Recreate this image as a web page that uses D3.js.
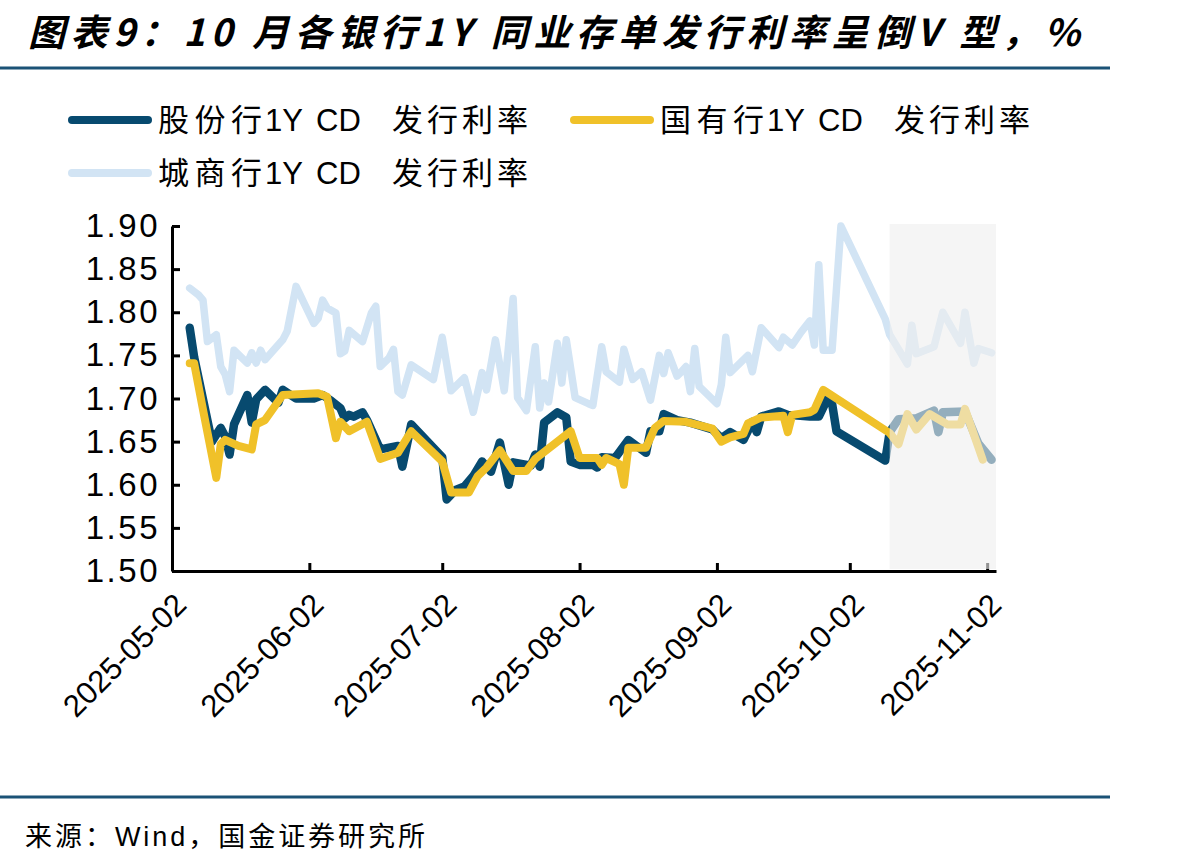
<!DOCTYPE html>
<html><head><meta charset="utf-8">
<script src="https://cdn.jsdelivr.net/npm/d3@7"></script>
<style>body{margin:0;background:#fff}svg{display:block}</style>
</head><body>
<svg id="chart" width="1198" height="866"></svg>
<script>
// ---------- data ----------
const titleText = "图表9：10 月各银行1Y 同业存单发行利率呈倒V 型，%";
const sourceText = "来源：Wind，国金证券研究所";
const seriesNames = ["股份行1Y CD 发行利率", "国有行1Y CD 发行利率", "城商行1Y CD 发行利率"];
const xTickLabels = ["2025-05-02","2025-06-02","2025-07-02","2025-08-02","2025-09-02","2025-10-02","2025-11-02"];
const yTickValues = [1.50, 1.55, 1.60, 1.65, 1.70, 1.75, 1.80, 1.85, 1.90];
const shadeStartDate = "2025-10-11";

// 股份行
const jointDates = ["2025-05-06","2025-05-07","2025-05-11","2025-05-13","2025-05-14","2025-05-15","2025-05-16","2025-05-19","2025-05-20","2025-05-21","2025-05-23","2025-05-26","2025-05-27","2025-05-30","2025-06-03","2025-06-05","2025-06-07","2025-06-09","2025-06-10","2025-06-11","2025-06-12","2025-06-14","2025-06-15","2025-06-18","2025-06-22","2025-06-23","2025-06-25","2025-07-02","2025-07-03","2025-07-05","2025-07-07","2025-07-09","2025-07-11","2025-07-13","2025-07-15","2025-07-17","2025-07-18","2025-07-22","2025-07-23","2025-07-24","2025-07-25","2025-07-28","2025-07-30","2025-07-31","2025-08-02","2025-08-05","2025-08-06","2025-08-07","2025-08-10","2025-08-13","2025-08-17","2025-08-18","2025-08-20","2025-08-21","2025-08-24","2025-08-27","2025-09-01","2025-09-03","2025-09-05","2025-09-08","2025-09-10","2025-09-11","2025-09-12","2025-09-16","2025-09-18","2025-09-23","2025-09-25","2025-09-27","2025-09-28","2025-09-29","2025-10-10","2025-10-11","2025-10-13","2025-10-17","2025-10-21","2025-10-22","2025-10-23","2025-10-28","2025-10-31","2025-11-03"];
const jointValues = [1.782,1.748,1.650,1.666,1.656,1.635,1.670,1.704,1.672,1.699,1.710,1.695,1.710,1.700,1.700,1.704,1.697,1.689,1.677,1.681,1.679,1.684,1.675,1.641,1.645,1.621,1.670,1.632,1.583,1.594,1.598,1.610,1.627,1.615,1.649,1.600,1.626,1.622,1.635,1.621,1.672,1.684,1.678,1.627,1.623,1.623,1.620,1.632,1.631,1.652,1.637,1.662,1.662,1.682,1.675,1.672,1.664,1.654,1.661,1.652,1.673,1.661,1.679,1.685,1.681,1.679,1.679,1.700,1.694,1.662,1.628,1.661,1.676,1.677,1.686,1.661,1.684,1.685,1.648,1.629];

// 国有行
const stateDates = ["2025-05-06","2025-05-07","2025-05-09","2025-05-12","2025-05-13","2025-05-14","2025-05-17","2025-05-20","2025-05-21","2025-05-23","2025-05-27","2025-06-04","2025-06-06","2025-06-08","2025-06-09","2025-06-11","2025-06-15","2025-06-18","2025-06-22","2025-06-25","2025-07-02","2025-07-04","2025-07-08","2025-07-10","2025-07-12","2025-07-15","2025-07-18","2025-07-21","2025-07-23","2025-07-31","2025-08-02","2025-08-06","2025-08-07","2025-08-08","2025-08-11","2025-08-12","2025-08-13","2025-08-17","2025-08-19","2025-08-21","2025-08-26","2025-09-01","2025-09-03","2025-09-05","2025-09-08","2025-09-09","2025-09-12","2025-09-17","2025-09-18","2025-09-19","2025-09-23","2025-09-24","2025-09-26","2025-10-11","2025-10-13","2025-10-15","2025-10-17","2025-10-20","2025-10-24","2025-10-27","2025-10-28","2025-11-01"];
const stateValues = [1.741,1.741,1.687,1.608,1.647,1.652,1.645,1.641,1.670,1.675,1.704,1.706,1.702,1.654,1.673,1.662,1.673,1.630,1.637,1.662,1.627,1.591,1.591,1.610,1.620,1.640,1.616,1.616,1.630,1.662,1.631,1.631,1.623,1.631,1.624,1.600,1.643,1.643,1.666,1.674,1.673,1.665,1.650,1.655,1.659,1.671,1.678,1.680,1.661,1.681,1.684,1.687,1.710,1.660,1.647,1.682,1.664,1.682,1.670,1.670,1.688,1.629];

// 城商行
const cityDates = ["2025-05-06","2025-05-08","2025-05-09","2025-05-10","2025-05-12","2025-05-13","2025-05-14","2025-05-15","2025-05-16","2025-05-19","2025-05-20","2025-05-21","2025-05-22","2025-05-23","2025-05-27","2025-05-28","2025-05-30","2025-06-03","2025-06-04","2025-06-05","2025-06-06","2025-06-08","2025-06-09","2025-06-10","2025-06-11","2025-06-14","2025-06-16","2025-06-17","2025-06-18","2025-06-20","2025-06-21","2025-06-22","2025-06-23","2025-06-25","2025-06-30","2025-07-02","2025-07-04","2025-07-07","2025-07-09","2025-07-11","2025-07-12","2025-07-14","2025-07-16","2025-07-18","2025-07-19","2025-07-21","2025-07-23","2025-07-24","2025-07-25","2025-07-26","2025-07-28","2025-07-29","2025-07-30","2025-08-01","2025-08-04","2025-08-05","2025-08-07","2025-08-08","2025-08-11","2025-08-12","2025-08-14","2025-08-16","2025-08-18","2025-08-20","2025-08-21","2025-08-22","2025-08-24","2025-08-25","2025-08-26","2025-08-27","2025-08-28","2025-08-29","2025-09-02","2025-09-03","2025-09-04","2025-09-05","2025-09-09","2025-09-10","2025-09-12","2025-09-16","2025-09-17","2025-09-19","2025-09-21","2025-09-23","2025-09-24","2025-09-25","2025-09-26","2025-09-28","2025-09-30","2025-10-10","2025-10-11","2025-10-15","2025-10-16","2025-10-17","2025-10-21","2025-10-23","2025-10-27","2025-10-28","2025-10-30","2025-10-31","2025-11-03"];
const cityValues = [1.828,1.820,1.814,1.766,1.774,1.737,1.728,1.708,1.756,1.741,1.753,1.741,1.756,1.745,1.768,1.778,1.830,1.787,1.793,1.814,1.805,1.799,1.752,1.755,1.779,1.766,1.799,1.807,1.737,1.747,1.757,1.708,1.704,1.739,1.722,1.771,1.709,1.724,1.684,1.730,1.710,1.768,1.709,1.816,1.701,1.686,1.760,1.689,1.718,1.696,1.764,1.718,1.768,1.701,1.694,1.692,1.760,1.731,1.719,1.757,1.722,1.731,1.698,1.750,1.729,1.753,1.726,1.731,1.737,1.708,1.758,1.714,1.694,1.716,1.771,1.730,1.750,1.731,1.782,1.759,1.771,1.762,1.777,1.790,1.762,1.855,1.756,1.756,1.900,1.792,1.774,1.740,1.785,1.752,1.760,1.800,1.764,1.800,1.741,1.758,1.753];

const seriesColors = ["#074a6f", "#f0c129", "#d2e4f4"];

// ---------- chart ----------
const parse = d3.timeParse("%Y-%m-%d");
const svg = d3.select("#chart");
const latin = "'Liberation Sans', Arial, 'Noto Sans CJK SC', sans-serif";

const x = d3.scaleTime().domain([parse("2025-05-02"), parse("2025-11-04")]).range([172, 996]);
const y = d3.scaleLinear().domain([1.50, 1.90]).range([571, 226]);

// title
svg.append("text").attr("x", 28).attr("y", 46)
  .attr("font-family", "'Noto Sans CJK SC', sans-serif").attr("font-weight", 700)
  .attr("font-style", "italic").attr("font-size", 37).attr("fill", "#000")
  .attr("textLength", 1052).attr("lengthAdjust", "spacing")
  .text(titleText);

// rules
[68, 797].forEach(yy => svg.append("line").attr("x1", 0).attr("x2", 1110).attr("y1", yy).attr("y2", yy)
  .attr("stroke", "#1b5276").attr("stroke-width", 3));

// legend: name split into CJK prefix, "1Y", "CD", CJK suffix
const legendItems = [
  {name: seriesNames[0], color: seriesColors[0], x: 68, y: 120},
  {name: seriesNames[1], color: seriesColors[1], x: 570, y: 120},
  {name: seriesNames[2], color: seriesColors[2], x: 68, y: 173}
];
legendItems.forEach(it => {
  svg.append("line").attr("x1", it.x + 4).attr("x2", it.x + 80).attr("y1", it.y).attr("y2", it.y)
    .attr("stroke", it.color).attr("stroke-width", 8).attr("stroke-linecap", "round");
  const m = it.name.match(/^(\S{3})(1Y) (CD) (.+)$/);
  const parts = [
    {t: m[1], dx: 90, len: 104},
    {t: m[2], dx: 197, len: null},
    {t: m[3], dx: 248, len: null},
    {t: m[4], dx: 324, len: 136}
  ];
  parts.forEach(p => {
    const t = svg.append("text").attr("x", it.x + p.dx).attr("y", it.y + 11)
      .attr("font-family", latin).attr("font-size", 31).attr("fill", "#000").text(p.t);
    if (p.len) t.attr("textLength", p.len).attr("lengthAdjust", "spacing");
  });
});

// series
const mk = (dates, vals) => dates.map((d, i) => ({date: parse(d), v: vals[i]}));
const series = [
  {data: mk(cityDates, cityValues), color: seriesColors[2], w: 7.5},
  {data: mk(jointDates, jointValues), color: seriesColors[0], w: 8.5},
  {data: mk(stateDates, stateValues), color: seriesColors[1], w: 8}
];
const line = d3.line().x(d => x(d.date)).y(d => y(d.v));
series.forEach(s => svg.append("path").datum(s.data).attr("d", line)
  .attr("fill", "none").attr("stroke", s.color).attr("stroke-width", s.w)
  .attr("stroke-linejoin", "round").attr("stroke-linecap", "round"));

// axes
const yAxis = svg.append("g").attr("transform", "translate(172,0)")
  .call(d3.axisLeft(y).tickValues(yTickValues).tickSize(-8).tickSizeOuter(0).tickPadding(12).tickFormat(d3.format(".2f")));
const xAxis = svg.append("g").attr("transform", "translate(0,571)")
  .call(d3.axisBottom(x).tickValues(xTickLabels.map(parse)).tickSize(-8).tickSizeOuter(0).tickFormat(d3.timeFormat("%Y-%m-%d")));
[yAxis, xAxis].forEach(g => {
  g.select(".domain").attr("stroke", "#000").attr("stroke-width", 3);
  g.selectAll(".tick line").attr("stroke", "#000").attr("stroke-width", 3);
  g.selectAll("text").attr("font-family", latin).attr("fill", "#000");
});
yAxis.selectAll("text").attr("font-size", 33).attr("letter-spacing", 2.5);
xAxis.selectAll("text").attr("font-size", 31).attr("text-anchor", "end")
  .attr("x", 0).attr("y", 0).attr("dy", "0.35em")
  .attr("transform", "translate(8,28) rotate(-45)");

// shaded overlay
const sx = x(parse(shadeStartDate));
svg.append("rect").attr("x", sx).attr("y", 224).attr("width", 996 - sx).attr("height", 569 - 224)
  .attr("fill", "#eeeeee").attr("fill-opacity", 0.61);

// source
svg.append("text").attr("x", 25).attr("y", 846)
  .attr("font-family", latin).attr("font-size", 27).attr("fill", "#000")
  .attr("textLength", 400).attr("lengthAdjust", "spacing")
  .text(sourceText);
</script>
</body></html>
